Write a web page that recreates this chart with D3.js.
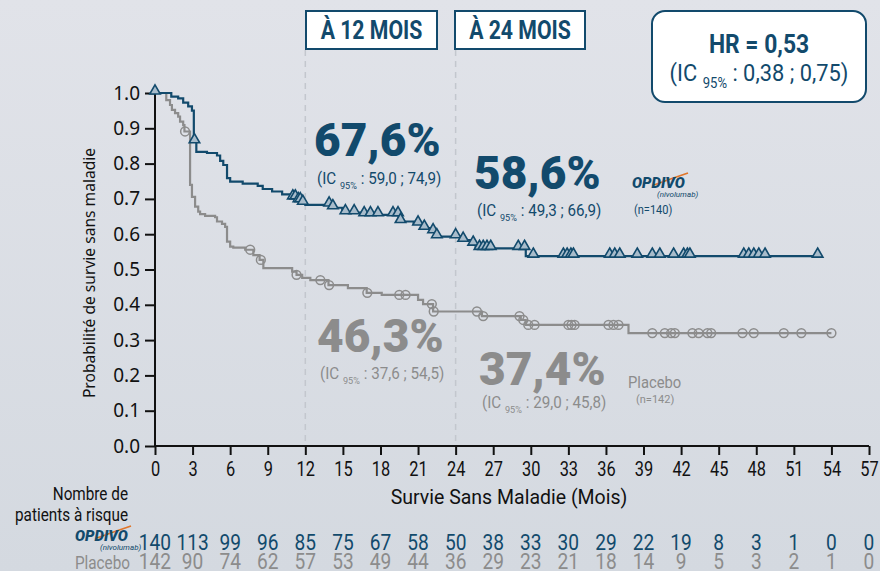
<!DOCTYPE html>
<html>
<head>
<meta charset="utf-8">
<script src="https://cdn.jsdelivr.net/npm/d3@7"></script>
<style>
  body { margin: 0; }
  svg { display: block; }
</style>
</head>
<body>
<svg width="880" height="571"></svg>
<script>
// courbes de Kaplan-Meier : [mois, survie après la chute]
const opdivoSteps = [
  [0, 1.0], [1.3, 0.99], [1.85, 0.985], [2.25, 0.973], [2.65, 0.962], [2.95, 0.95],
  [3.1, 0.862], [3.3, 0.833], [4.15, 0.83], [4.95, 0.823], [5.2, 0.808], [5.45, 0.796],
  [5.75, 0.759], [6.0, 0.749], [7.0, 0.743], [8.2, 0.737], [8.6, 0.728], [9.35, 0.721],
  [10.15, 0.713], [10.95, 0.703], [11.4, 0.695], [11.75, 0.688], [12.0, 0.683],
  [14.15, 0.675], [14.95, 0.661], [16.4, 0.655], [19.45, 0.636], [20.65, 0.629],
  [21.45, 0.617], [22.0, 0.607], [22.45, 0.593], [24.55, 0.583], [25.3, 0.572],
  [25.6, 0.56], [29.6, 0.538]
];
const opdivoCensor = [
  0, 3.15, 11.0, 11.2, 11.45, 11.6, 11.8, 13.9, 14.2, 15.2, 15.9, 16.7, 17.2, 17.8,
  19.0, 19.4, 19.6, 21.0, 21.5, 22.2, 22.5, 24.0, 24.6, 25.4, 25.9, 26.2, 26.5, 26.8,
  29.0, 29.5, 30.2, 32.6, 32.9, 33.2, 33.4, 36.3, 36.7, 37.1, 38.5, 39.7, 40.3, 41.4,
  42.2, 42.5, 42.7, 47.0, 47.4, 47.8, 48.2, 48.7, 52.9
];
const placeboSteps = [
  [0, 1.0], [0.9, 0.98], [1.2, 0.966], [1.35, 0.952], [1.6, 0.943], [1.85, 0.933],
  [2.0, 0.919], [2.25, 0.909], [2.35, 0.891], [2.8, 0.74], [2.95, 0.706], [3.2, 0.678],
  [3.45, 0.664], [3.6, 0.657], [4.0, 0.652], [4.8, 0.648], [4.95, 0.636], [5.35, 0.629],
  [5.6, 0.621], [5.75, 0.579], [6.0, 0.565], [6.25, 0.562], [7.2, 0.556], [7.85, 0.541],
  [8.35, 0.527], [8.65, 0.504], [10.95, 0.494], [11.3, 0.485], [11.75, 0.476],
  [12.4, 0.47], [13.85, 0.456], [15.4, 0.447], [16.9, 0.434], [18.1, 0.428],
  [21.0, 0.414], [21.4, 0.402], [22.2, 0.381], [26.1, 0.368], [29.2, 0.357],
  [29.6, 0.343], [37.8, 0.32]
];
const placeboCensor = [
  2.4, 7.6, 8.45, 11.3, 13.2, 13.9, 16.95, 19.5, 20.0, 22.1, 22.25, 25.7, 26.2, 29.1,
  29.4, 29.8, 30.3, 33.0, 33.25, 33.5, 36.2, 36.6, 37.0, 39.7, 40.7, 41.2, 41.5, 42.9,
  43.4, 44.1, 44.4, 46.9, 47.8, 50.2, 51.6, 54.0
];

const xTicks = [0, 3, 6, 9, 12, 15, 18, 21, 24, 27, 30, 33, 36, 39, 42, 45, 48, 51, 54, 57];
const yTicks = [0, 0.1, 0.2, 0.3, 0.4, 0.5, 0.6, 0.7, 0.8, 0.9, 1.0];
const opdivoRisk = [140, 113, 99, 96, 85, 75, 67, 58, 50, 38, 33, 30, 29, 22, 19, 8, 3, 1, 0, 0];
const placeboRisk = [142, 90, 74, 62, 57, 53, 49, 44, 36, 29, 23, 21, 18, 14, 9, 5, 3, 2, 1, 0];
const landmarks = [12, 24];

const blue = "#124a6c";
const grey = "#8c8c8c";
const roboto = "Roboto, 'Noto Sans', sans-serif";
const sans = "'Noto Sans', 'Open Sans', sans-serif";

const svg = d3.select("svg");

// fond dégradé
const grad = svg.append("defs").append("linearGradient")
  .attr("id", "bg").attr("x1", 0).attr("y1", 0).attr("x2", 0).attr("y2", 1);
grad.append("stop").attr("offset", "0%").attr("stop-color", "#e1e3e9");
grad.append("stop").attr("offset", "100%").attr("stop-color", "#d4d9e0");
svg.append("rect").attr("width", 880).attr("height", 571).attr("fill", "url(#bg)");

// texte avec compression horizontale (police étroite absente)
function txt(px, py, str, o) {
  const g = svg.append("g").attr("transform", "translate(" + px + "," + py + ") scale(" + (o.sx || 1) + ",1)");
  const t = g.append("text").attr("text-anchor", o.anchor || "start")
    .style("font-family", o.family || roboto).style("font-size", o.size + "px")
    .style("font-weight", o.weight || "normal").style("font-style", o.style || "normal")
    .style("fill", o.fill || "#111");
  if (str != null) t.text(str);
  return t;
}

const x = d3.scaleLinear().domain([0, 57]).range([155, 869]);
const y = d3.scaleLinear().domain([0, 1]).range([446, 93]);

// lignes repères 12 et 24 mois
svg.selectAll(".landmark").data(landmarks).enter().append("line")
  .attr("x1", d => x(d)).attr("x2", d => x(d))
  .attr("y1", 50).attr("y2", y(0))
  .style("stroke", "#c3c7ce").style("stroke-width", 1.5)
  .style("stroke-dasharray", "6,5");

// axes
const yAxis = svg.append("g").attr("transform", "translate(" + x(0) + ",0)")
  .call(d3.axisLeft(y).tickValues(yTicks).tickFormat(d3.format(".1f")).tickSize(10).tickPadding(5));
const xAxis = svg.append("g").attr("transform", "translate(0," + y(0) + ")")
  .call(d3.axisBottom(x).tickValues(xTicks).tickSize(9).tickPadding(6));
[yAxis, xAxis].forEach(g => {
  g.select(".domain").style("stroke", "#111").style("stroke-width", 2);
  g.selectAll(".tick line").style("stroke", "#111").style("stroke-width", 2);
});
yAxis.select(".domain").attr("d", "M0," + y(0) + "V" + (y(1) - 3));
xAxis.select(".domain").attr("d", "M" + x(0) + ",0H" + x(57));
yAxis.selectAll(".tick text").style("font-family", sans).style("font-size", "19px").style("fill", "#111");
xAxis.selectAll(".tick text").style("font-family", roboto).style("font-size", "21px").style("fill", "#111")
  .attr("transform", "scale(0.78,1)");

svg.append("text")
  .attr("transform", "translate(95,273) rotate(-90)")
  .attr("text-anchor", "middle")
  .style("font-family", sans).style("font-size", "15.6px").style("fill", "#111")
  .text("Probabilité de survie sans maladie");

txt(509, 504, "Survie Sans Maladie (Mois)", { size: 19.5, anchor: "middle", sx: 1 });

// courbes
function survAt(steps, t) {
  let s = 1;
  steps.forEach(d => { if (d[0] <= t) s = d[1]; });
  return s;
}
function curvePoints(steps, censor) {
  const end = d3.max(censor);
  return steps.concat([[end, survAt(steps, end)]]);
}
const line = d3.line().x(d => x(d[0])).y(d => y(d[1])).curve(d3.curveStepAfter);

svg.append("path").datum(curvePoints(placeboSteps, placeboCensor))
  .attr("d", line).attr("fill", "none")
  .style("stroke", grey).style("stroke-width", 2.2);
svg.selectAll(".cp").data(placeboCensor).enter().append("circle")
  .attr("cx", d => x(d)).attr("cy", d => y(survAt(placeboSteps, d)))
  .attr("r", 4.4).attr("fill", "none")
  .style("stroke", grey).style("stroke-width", 1.5);

svg.append("path").datum(curvePoints(opdivoSteps, opdivoCensor))
  .attr("d", line).attr("fill", "none")
  .style("stroke", blue).style("stroke-width", 2.2);
const tri = d3.symbol().type(d3.symbolTriangle).size(48);
svg.selectAll(".co").data(opdivoCensor).enter().append("path")
  .attr("d", tri)
  .attr("transform", d => "translate(" + x(d) + "," + (y(survAt(opdivoSteps, d)) - 2) + ")")
  .attr("fill", "#a8bccb")
  .style("stroke", blue).style("stroke-width", 1.6);

// encadrés
const boxes = [
  { label: "À 12 MOIS", x0: 306, x1: 437 },
  { label: "À 24 MOIS", x0: 455, x1: 585 }
];
boxes.forEach(b => {
  svg.append("rect").attr("x", b.x0).attr("y", 11).attr("width", b.x1 - b.x0).attr("height", 38)
    .attr("fill", "#fff").style("stroke", blue).style("stroke-width", 2);
  txt((b.x0 + b.x1) / 2, 39, b.label, { size: 25, weight: "bold", anchor: "middle", sx: 0.85, fill: blue });
});

svg.append("rect").attr("x", 652).attr("y", 11).attr("width", 214).attr("height", 91)
  .attr("rx", 13).attr("fill", "#fff").style("stroke", blue).style("stroke-width", 2);
txt(759, 53, "HR = 0,53", { size: 26, weight: "bold", anchor: "middle", sx: 0.88, fill: blue });

function icText(xp, yp, size, color, lo, hi, sx, anchor) {
  const t = txt(xp, yp, null, { size: size, fill: color, sx: sx, anchor: anchor });
  t.append("tspan").text("(IC ");
  t.append("tspan").attr("dy", size * 0.32).style("font-size", (size * 0.6) + "px").text("95%");
  t.append("tspan").attr("dy", -size * 0.32).text(" : " + lo + " ; " + hi + ")");
  return t;
}
icText(759, 81, 23, blue, "0,38", "0,75", 0.95, "middle");

// pourcentages
const pcts = [
  { v: "67,6%", x: 314, y: 156, c: blue, lo: "59,0", hi: "74,9", iy: 184 },
  { v: "58,6%", x: 474, y: 189, c: blue, lo: "49,3", hi: "66,9", iy: 216 },
  { v: "46,3%", x: 317, y: 352, c: grey, lo: "37,6", hi: "54,5", iy: 379 },
  { v: "37,4%", x: 479, y: 385, c: grey, lo: "29,0", hi: "45,8", iy: 408 }
];
pcts.forEach(p => {
  txt(p.x, p.y, p.v, { size: 46, weight: "900", fill: p.c });
  icText(p.x + 3, p.iy, 16, p.c, p.lo, p.hi, 0.95);
});

// logo OPDIVO
function logo(xp, yp) {
  const g = svg.append("g").attr("transform", "translate(" + xp + "," + yp + ")");
  g.append("path").attr("d", "M22,-3 Q38,-9 56,-15")
    .attr("fill", "none").style("stroke", "#e0762a").style("stroke-width", 1.8);
  g.append("text").attr("x", 0).attr("y", 0)
    .style("font-family", roboto).style("font-weight", "900").style("font-style", "italic")
    .style("font-size", "15px").style("fill", blue).text("OPDIVO");
  g.append("text").attr("x", 25).attr("y", 9)
    .style("font-family", roboto).style("font-style", "italic")
    .style("font-size", "8px").style("fill", blue).text("(nivolumab)");
}
logo(632, 188);
txt(634, 214, "(n=140)", { size: 12, fill: blue, sx: 0.92 });
txt(628, 388, "Placebo", { size: 17, fill: grey, sx: 0.87 });
txt(636, 403, "(n=142)", { size: 11, fill: grey });

// patients à risque
txt(128, 500, "Nombre de", { size: 18, anchor: "end", sx: 0.85 });
txt(128, 521, "patients à risque", { size: 18, anchor: "end", sx: 0.85 });

logo(75, 541);
txt(130, 569, "Placebo", { size: 18, anchor: "end", sx: 0.85, fill: grey });

opdivoRisk.forEach((d, i) => {
  txt(x(xTicks[i]), 550, String(d), { size: 22, anchor: "middle", sx: 0.87, fill: blue });
});
placeboRisk.forEach((d, i) => {
  txt(x(xTicks[i]), 569, String(d), { size: 22, anchor: "middle", sx: 0.87, fill: grey });
});
</script>
</body>
</html>
